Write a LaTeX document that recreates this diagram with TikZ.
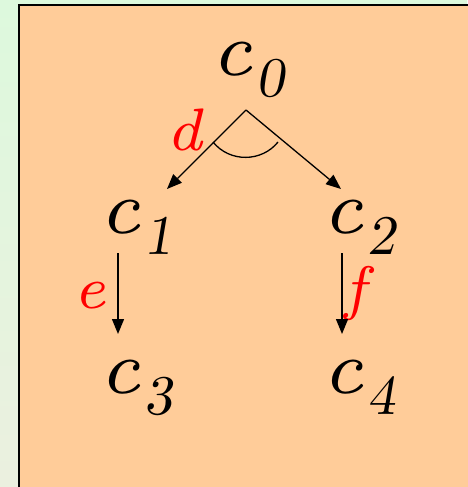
\documentclass[tikz,border=0pt]{standalone}
\usepackage{fontspec}
\newfontfamily\tmsi{lmroman7-italic.otf}
\newfontfamily\tmsd{lmromanslant10-regular.otf}
\usetikzlibrary{arrows.meta}
\definecolor{boxfill}{HTML}{FFCC99}
\definecolor{bgtop}{HTML}{DDF9DD}
\definecolor{bgbot}{HTML}{EBF0DF}
\newcommand{\cvar}[1]{{\fontsize{76}{76}\selectfont\tmsi c}\hspace{4pt}\raisebox{-21pt}{\fontsize{56}{56}\selectfont\tmsd #1}}
\begin{document}
\begin{tikzpicture}[x=1pt,y=-1pt,
  cnode/.style={anchor=base west,inner sep=0pt,outer sep=0pt},
  lbl/.style={anchor=base west,inner sep=0pt,outer sep=0pt,text=red,font=\fontsize{60}{60}\selectfont\tmsi},
  arr/.style={line width=1.3pt,-{Triangle[length=15pt,width=12pt]}}]
\useasboundingbox (0,0) rectangle (467,487);
\shade[top color=bgtop,bottom color=bgbot] (0,0) rectangle (467,487);
\draw[fill=boxfill,line width=2.2pt] (19,5) rectangle (480,500);
% nodes
\node[cnode] (c0) at (211,75) {\cvar{0}};
\node[cnode] (c1) at (99,233) {\cvar{1}};
\node[cnode] (c2) at (322,233) {\cvar{2}};
\node[cnode] (c3) at (99,393) {\cvar{3}};
\node[cnode] (c4) at (322,393) {\cvar{4}};
\node[lbl] (d) at (166,150) {d};
\node[lbl] (e) at (73,308) {e};
\node[lbl] (f) at (344,308) {f};
% connector points
\coordinate (apex) at (246,110);
\coordinate (t1) at (167,189);
\coordinate (t2) at (341,189);
\coordinate (s3) at (118,253);
\coordinate (t3) at (118,334);
\coordinate (s4) at (342,253);
\coordinate (t4) at (342,334);
\draw[arr] (apex) -- (t1);
\draw[arr] (apex) -- (t2);
\draw[line width=1.3pt] (213,142) .. controls (230,163) and (262,162) .. (278,142);
\draw[arr] (s3) -- (t3);
\draw[arr] (s4) -- (t4);
\end{tikzpicture}
\end{document}
